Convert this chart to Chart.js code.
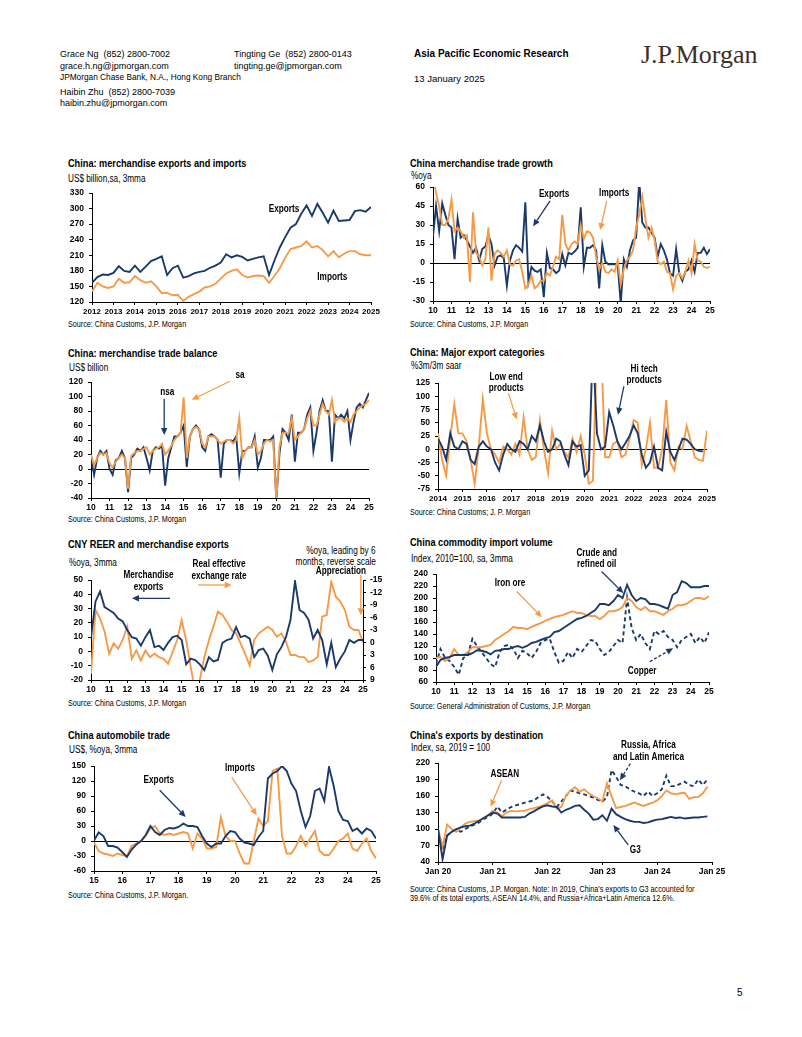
<!DOCTYPE html>
<html>
<head>
<meta charset="utf-8">
<title>China trade charts</title>
<script src="https://cdn.jsdelivr.net/npm/chart.js@4.4.1/dist/chart.umd.min.js"></script>
<style>
  body { margin: 0; background: #fff; }
  #page { position: relative; width: 802px; height: 1037px; overflow: hidden; background: #fff; }
  #page canvas { position: absolute; }
  .tx { position: absolute; white-space: pre; color: #000; line-height: 1; transform-origin: 0 50%; }
</style>
</head>
<body>
<div id="page"></div>
<script>
'use strict';

// ---- data (approx) ----

// exports and imports, US$bn, quarterly from 2012
const levelStart = 2012;
const exportsLevel = [
  157, 168, 173, 172, 176, 189, 180, 178, 190, 178, 188, 199,
  203, 208, 172, 185, 190, 167, 170, 175, 178, 180, 186, 190,
  196, 212, 206, 210, 207, 200, 203, 206, 208, 172, 200, 225,
  245, 263, 270, 290, 306, 286, 309, 292, 273, 296, 276, 277,
  278, 295, 297, 294, 303];
const importsLevel = [
  140, 157, 150, 147, 150, 165, 157, 158, 170, 162, 157, 160,
  150, 137, 138, 133, 134, 122, 130, 135, 140, 148, 150, 155,
  165, 175, 180, 183, 172, 167, 170, 171, 170, 157, 170, 185,
  205, 222, 225, 228, 237, 225, 228, 220, 208, 218, 206, 213,
  218, 218, 212, 210, 210];

// trade growth %oya, every 2 months from 2010
const growthStart = 2010;
const exportsGrowth = [
  21, 45, 25, 47, 38, 30, 28, 3, 35, 20, 22, 18,
  13, 8, 12, 2, 11, 13, 22, 15, -2, 5, 6, 4,
  -18, 2, 10, 14, 12, 9, 48, -15, -3, -6, -7, -5,
  -27, 8, -4, -5, -8, -6, 7, -2, 8, 7, 9, 12,
  44, -3, 12, 12, 14, 10, -20, 14, 1, -1, -1, -1,
  -1, -32, 3, -3, 10, 18, 20, 65, 32, 28, 28, 24,
  20, 5, 15, 10, 3, -8, -10, 11, -8, -14, -7, -5,
  2, -7, 8, 8, 12, 7, 11];
const importsGrowth = [
  70, 55, 45, 30, 30, 35, 50, 25, 28, 25, 20, 22,
  -15, 40, 8, 5, -2, 3, 28, -14, 7, 10, 8, 5,
  10, -1, -2, 2, 3, -7, -20, -17, -10, -20, -18, -14,
  -14, -8, -10, -3, 5, 3, 38, 15, 10, 15, 17, 15,
  30, 19, 25, 24, 20, 5, -5, 0, -7, -8, -5, -7,
  2, -17, -5, 2, 5, 10, 28, 38, 52, 35, 20, 28,
  18, 1, -1, 1, -7, -8, -21, -10, -8, -12, -7, 2,
  -8, 15, 2, 1, -3, -4, -3];

// trade balance US$bn, every 2 months from 2010
const balanceStart = 2010;
const balanceNsa = [
  15, -8, 15, 25, 20, 25, 0, -8, 12, 15, 25, 15,
  -32, 15, 20, 28, 25, 30, 15, -2, 25, 30, 28, 32,
  -23, 15, 30, 45, 45, 50, 60, 3, 45, 55, 60, 55,
  30, 25, 45, 48, 45, 40, -12, 35, 40, 40, 38, 45,
  -6, 25, 25, 30, 30, 45, 2, 15, 40, 40, 40, 45,
  -42, 20, 55, 50, 40, 75, 10, 50, 50, 55, 75, 85,
  25, 50, 80, 95, 80, 80, 10, 75, 70, 75, 70, 80,
  40, 65, 85, 90, 85, 95, 105];
const balanceSa = [
  20, 5, 15, 22, 20, 22, 8, 2, 10, 15, 20, 15,
  -27, 18, 22, 25, 25, 28, 30, 20, 25, 28, 30, 35,
  20, 25, 32, 40, 45, 50, 99, 15, 45, 55, 58, 55,
  35, 30, 45, 45, 45, 40, 35, 38, 40, 40, 35, 40,
  70, 15, 25, 30, 30, 40, 20, 25, 35, 40, 38, 40,
  -45, 30, 50, 50, 50, 70, 40, 45, 50, 55, 70, 80,
  60, 60, 75, 90, 80, 75, 95, 65, 70, 70, 65, 70,
  65, 75, 80, 85, 88, 90, 95];

// export categories %3m/3m saar, every 2 months from 2014
const catStart = 2014;
const hiTech = [
  20, 5, -20, 30, 5, 0, 15, 10, -20, -28, 5, 15,
  5, 0, -25, -40, -10, 10, 0, -5, 15, 10, 0, 25,
  15, 45, 15, -5, 0, 20, 15, -10, -30, 15, 5, 8,
  -50, -40, 200, 30, 0, 5, 70, 45, 15, 0, 12, 25,
  45, 30, -10, -35, -25, 5, -35, -40, 33, -5, -20, 0,
  20, 18, 10, 0, -3, -4];
const lowEnd = [
  30, -20, -50, 20, 85, 30, 30, 15, -20, -65, 5, 95,
  30, 0, -10, -25, 5, 0, -10, 10, -10, 60, 0, -20,
  -15, 55, 0, -45, 35, 0, 10, -5, -15, 20, -5, 25,
  -10, -65, -60, 200, 200, -15, -15, 10, 15, -15, -10, 20,
  55, 50, -30, 0, 50, -35, -35, 0, 93, -25, -40, 5,
  0, 44, 15, -15, -20, -22, 35];

// CNY REER vs exports, quarterly from 2010
const reerStart = 2010;
const exports3mma = [
  10, 35, 42, 31, 29, 27, 23, 21, 15, 10, 9, 4,
  10, 15, 3, 4, 1, 6, 10, 11, 8, -9, -5, -6,
  -9, -13, -4, -7, -6, 6, 8, 9, 17, 10, 11, 9,
  -4, 1, 2, -3, -13, -2, 3, 10, 22, 49, 29, 27,
  22, 9, 15, 8, -9, 6, -11, -5, 0, 8, 6, 8, 8];
const reerLead = [
  7.5, -7.8, -5.8, -2.6, 2.7, 0.2, 1.5, -0.6, -3.8, 3.9, 1.9, 4.3,
  1.9, 3.5, 2.7, 3.5, 3.9, 5.1, 2.3, -0.6, -5.4, -0.5, 5.9, 12,
  9, 3.5, -0.5, -3.8, -7.4, -6.6, -5, -3, -2.2, 0.2, 2.7, 5.5,
  -0.6, -2.2, -3, -3.8, -3, -1.4, -2.2, -0.2, 3, 3, 3.5, 3.5,
  4.7, 4.3, 3.5, -6.2, -6.6, -14.6, -11, -9.8, -7.8, -3.8, -3, -3, 0];

// commodity import volume index, quarterly from 2010
const commodStart = 2010;
const crudeOil = [
  85, 97, 100, 102, 105, 105, 105, 105, 108, 113, 112, 110,
  106, 112, 113, 115, 115, 118, 120, 117, 120, 125, 127, 130,
  133, 135, 143, 145, 150, 155, 160, 165, 167, 170, 175, 180,
  190, 190, 188, 195, 205, 200, 222, 205, 195, 200, 198, 190,
  190, 188, 185, 182, 205, 210, 228, 225, 218, 218, 218, 220, 220];
const ironOre = [
  100, 102, 95, 100, 115, 105, 105, 110, 118, 118, 118, 120,
  122, 130, 135, 140, 145, 152, 150, 150, 148, 152, 155, 158,
  162, 165, 168, 170, 172, 175, 178, 175, 175, 172, 170, 170,
  165, 170, 178, 178, 180, 185, 200, 195, 185, 180, 185, 178,
  178, 175, 172, 178, 182, 188, 188, 190, 195, 200, 200, 198, 203];
const copper = [
  90, 115, 100, 95, 85, 72, 100, 105, 132, 120, 110, 100,
  90, 85, 110, 120, 122, 115, 100, 112, 108, 100, 110, 125,
  130, 132, 110, 92, 95, 110, 100, 115, 110, 120, 130, 128,
  115, 105, 110, 120, 130, 125, 200, 150, 130, 140, 125, 115,
  145, 140, 145, 135, 130, 118, 130, 135, 140, 125, 135, 125, 143];

// automobile trade %oya, every 2 months from 2015
const autoStart = 2015;
const autoExports = [
  1, 17, 10, -10, -10, -13, -22, -32, -17, -7, 0, 12,
  30, 18, 12, 22, 26, 25, 28, 35, 30, 30, 28, 10,
  -5, -12, -5, -5, 10, 20, 18, 5, -3, -5, -8, 8,
  20, 125, 135, 140, 150, 140, 115, 100, 60, 28, 50, 100,
  105, 80, 148, 110, 60, 42, 40, 20, 25, 15, 25, 20, 5];
const autoImports = [
  -3, -20, -25, -27, -30, -25, -28, -30, -10, -5, 0, 10,
  25, 30, 15, 12, 15, 12, 15, 18, 15, -15, 15, 5,
  -15, -15, -12, 47, 10, 0, 0, -25, -45, -45, 0, 45,
  30, 40, 140, 145, 10, -25, -25, -10, 10, -10, 5, 20,
  -20, -28, -28, -15, 0, 5, 15, -15, -20, -5, 5, -20, -35];

// exports by destination, index 2019=100, monthly from Jan 2020
const destStart = 2020;
const g3 = [
  101, 45, 88, 95, 100, 103, 105, 106, 110, 115, 120, 125,
  130, 128, 121, 121, 121, 121, 121, 122, 128, 132, 137, 141,
  143, 141, 140, 130, 135, 138, 142, 143, 135, 128, 117, 118,
  125, 115, 137, 127, 122, 118, 115, 113, 113, 111, 112, 115,
  117, 118, 120, 122, 120, 121, 119, 120, 121, 121, 122, 123];
const asean = [
  100, 68, 108, 100, 95, 103, 110, 113, 114, 115, 120, 125,
  133, 130, 123, 130, 133, 132, 133, 133, 136, 138, 140, 143,
  147, 152, 137, 140, 160, 170, 176, 168, 172, 165, 160, 156,
  150, 183, 160, 138, 140, 142, 145, 148, 145, 142, 145, 148,
  152, 160, 170, 165, 163, 165, 166, 155, 158, 158, 165, 177];
const russiaAfLatam = [
  98, 62, 88, 95, 98, 95, 100, 105, 108, 112, 118, 122,
  128, 141, 130, 135, 140, 143, 145, 148, 150, 152, 158, 163,
  158, 150, 140, 150, 160, 170, 168, 165, 163, 160, 157, 153,
  150, 158, 207, 195, 180, 178, 172, 168, 165, 160, 168, 160,
  165, 172, 197, 178, 178, 182, 186, 180, 178, 190, 180, 190];

// ---- fonts ----
function fontOk(name) {
  let c = document.createElement('canvas').getContext('2d');
  c.font = '20px monospace';
  let a = c.measureText('Merchandise exports 2012').width;
  c.font = '20px "' + name + '", monospace';
  return c.measureText('Merchandise exports 2012').width !== a;
}
const NARROW = fontOk('Liberation Sans Narrow');
const FAM = NARROW ? '"Liberation Sans Narrow", "Liberation Sans", sans-serif' : '"Liberation Sans", Arial, sans-serif';
const SQ = NARROW ? 1 : 0.82;   // horizontal squeeze when no narrow face
const WIDE = '"Liberation Sans", Arial, sans-serif';

const BLUE = '#1b3a6b';
const ORANGE = '#f59b48';

const page = document.getElementById('page');

function put(x, y, str, size, opt) {
  opt = opt || {};
  let d = document.createElement('div');
  d.className = 'tx';
  d.textContent = str;
  d.style.fontSize = size + 'px';
  d.style.fontFamily = opt.family || FAM;
  if (opt.bold) d.style.fontWeight = 'bold';
  if (opt.color) d.style.color = opt.color;
  d.style.top = (y - size / 2) + 'px';
  if (opt.right) {
    d.style.right = (802 - x) + 'px';
    d.style.transformOrigin = '100% 50%';
  } else {
    d.style.left = x + 'px';
  }
  let sq = opt.family ? 1 : SQ;
  if (opt.scale) sq = opt.scale;
  if (sq !== 1) d.style.transform = 'scaleX(' + sq + ')';
  page.appendChild(d);
}

function pts(start, step, vals) {
  return vals.map((v, i) => ({ x: start + i * step, y: v }));
}

// ---- labels and arrows drawn through the chart scales ----
const notesPlugin = {
  id: 'notes',
  afterDatasetsDraw(chart, args, opts) {
    let ctx = chart.ctx;
    let xs = chart.scales.x, ys = chart.scales.y;
    ctx.save();
    (opts.arrows || []).forEach(a => {
      let x1 = xs.getPixelForValue(a.from[0]), y1 = ys.getPixelForValue(a.from[1]);
      let x2 = xs.getPixelForValue(a.to[0]), y2 = ys.getPixelForValue(a.to[1]);
      let ang = Math.atan2(y2 - y1, x2 - x1);
      let hx = x2 - 7 * Math.cos(ang), hy = y2 - 7 * Math.sin(ang);
      ctx.strokeStyle = a.color;
      ctx.fillStyle = a.color;
      ctx.lineWidth = 1.3;
      ctx.setLineDash(a.dash ? [3, 2] : []);
      ctx.beginPath();
      ctx.moveTo(x1, y1);
      ctx.lineTo(hx, hy);
      ctx.stroke();
      ctx.setLineDash([]);
      ctx.beginPath();
      ctx.moveTo(x2, y2);
      ctx.lineTo(hx + 3.2 * Math.sin(ang), hy - 3.2 * Math.cos(ang));
      ctx.lineTo(hx - 3.2 * Math.sin(ang), hy + 3.2 * Math.cos(ang));
      ctx.closePath();
      ctx.fill();
    });
    (opts.labels || []).forEach(l => {
      ctx.font = 'bold 10px ' + FAM;
      ctx.fillStyle = '#000';
      ctx.textAlign = 'center';
      ctx.textBaseline = 'middle';
      let px = xs.getPixelForValue(l.at[0]), py = ys.getPixelForValue(l.at[1]);
      ctx.save();
      ctx.translate(px, py);
      ctx.scale(SQ, 1);
      ctx.fillText(l.text, 0, 0);
      ctx.restore();
    });
    ctx.restore();
  }
};

const AXW = 40, AXH = 22, PADT = 34;
const TICKFONT = { family: FAM, size: NARROW ? 10 : 8.5, weight: 'bold' };
const YEARFONT = { family: FAM, size: NARROW ? 9.5 : 8, weight: 'bold' };

function yGrid(zero) {
  return {
    drawOnChartArea: !!zero,
    color: c => (c.tick && c.tick.value === 0) ? '#000' : 'rgba(0,0,0,0)',
    tickColor: '#000',
    tickLength: 3,
    lineWidth: 1
  };
}

function panel(box, xr, yr, datasets, extra) {
  extra = extra || {};
  let rightW = extra.y2 ? 34 : 16;
  let w = box.r - box.l + AXW + rightW;
  let h = box.b - box.t + PADT + AXH;
  let cv = document.createElement('canvas');
  cv.width = w;
  cv.height = h;
  cv.style.left = (box.l - AXW) + 'px';
  cv.style.top = (box.t - PADT) + 'px';
  page.appendChild(cv);

  let scales = {
    x: {
      type: 'linear', min: xr[0], max: xr[1],
      afterFit: s => { s.height = AXH; },
      border: { color: '#000', width: 1 },
      grid: { drawOnChartArea: false, color: '#000', tickLength: 3 },
      ticks: { stepSize: 1, autoSkip: false, maxRotation: 0, padding: 2, color: '#000',
        font: xr[3] ? YEARFONT : TICKFONT, callback: xr[2] }
    },
    y: {
      min: yr[0], max: yr[1],
      afterFit: s => { s.width = AXW; },
      border: { color: '#000', width: 1 },
      grid: yGrid(extra.zero),
      ticks: { stepSize: yr[2], autoSkip: false, padding: 5, color: '#000', font: TICKFONT }
    }
  };
  if (extra.y2) {
    scales.y2 = {
      position: 'right', reverse: true, min: extra.y2[0], max: extra.y2[1],
      afterFit: s => { s.width = 34; },
      border: { color: '#000', width: 1 },
      grid: { drawOnChartArea: false, color: '#000', tickLength: 3 },
      ticks: { stepSize: extra.y2[2], autoSkip: false, padding: 4, color: '#000', font: TICKFONT }
    };
  }

  return new Chart(cv, {
    type: 'line',
    data: { datasets: datasets },
    options: {
      responsive: false,
      animation: false,
      devicePixelRatio: 1,
      events: [],
      layout: { padding: { top: PADT, right: extra.y2 ? 0 : rightW, left: 0, bottom: 0 } },
      elements: { point: { radius: 0 }, line: { borderWidth: 1.9, tension: 0 } },
      plugins: { legend: { display: false }, tooltip: { enabled: false }, notes: extra.notes || {} },
      scales: scales
    },
    plugins: [notesPlugin]
  });
}

function line(data, color, dash) {
  return { data: data, borderColor: color, borderDash: dash || [], fill: false };
}

const yy = v => String(v).slice(2);
const full = v => String(v);

// ---- header ----
put(60, 54, 'Grace Ng  (852) 2800-7002', 9, { family: WIDE });
put(60, 66, 'grace.h.ng@jpmorgan.com', 9, { family: WIDE });
put(60, 77.5, 'JPMorgan Chase Bank, N.A., Hong Kong Branch', 8.3, { family: WIDE });
put(60, 92, 'Haibin Zhu  (852) 2800-7039', 9, { family: WIDE });
put(60, 103, 'haibin.zhu@jpmorgan.com', 9, { family: WIDE });
put(234, 54, 'Tingting Ge  (852) 2800-0143', 9, { family: WIDE });
put(234, 66, 'tingting.ge@jpmorgan.com', 9, { family: WIDE });
put(414, 54, 'Asia Pacific Economic Research', 10, { family: WIDE, bold: true });
put(414, 79, '13 January 2025', 9.5, { family: WIDE });
put(641, 55, 'J.P.Morgan', 26, { family: '"Liberation Serif", "DejaVu Serif", serif', color: '#3f3128' });
put(737, 993, '5', 10, { family: WIDE });

// ---- chart titles, units, sources ----
const SRC = 8.8;
put(68, 164, 'China: merchandise exports and imports', 11.2, { bold: true });
put(68, 179, 'US$ billion,sa, 3mma', 10);
put(68, 324, 'Source: China Customs, J.P. Morgan', SRC);

put(410, 164, 'China merchandise trade growth', 11.2, { bold: true });
put(411, 176, '%oya', 10);
put(410, 324, 'Source: China Customs, J.P. Morgan', SRC);

put(68, 354, 'China: merchandise trade balance', 11.2, { bold: true });
put(69, 368, 'US$ billion', 10);
put(68, 519, 'Source: China Customs, J.P. Morgan', SRC);

put(410, 353, 'China: Major export categories', 11.2, { bold: true });
put(411, 366, '%3m/3m saar', 10);
put(410, 512, 'Source: China Customs; J. P. Morgan', SRC);

put(68, 545, 'CNY REER and merchandise exports', 11.2, { bold: true });
put(69, 563, '%oya, 3mma', 10);
put(376, 551, '%oya, leading by 6', 10, { right: true });
put(376, 562, 'months, reverse scale', 10, { right: true });
put(68, 703, 'Source: China Customs, J.P. Morgan', SRC);

put(410, 543, 'China commodity import volume', 11.2, { bold: true });
put(411, 559, 'Index, 2010=100, sa, 3mma', 10);
put(410, 706, 'Source: General Administration of Customs, J.P. Morgan', SRC);

put(68, 736, 'China automobile trade', 11.2, { bold: true });
put(69, 750, 'US$, %oya, 3mma', 10);
put(68, 895, 'Source: China Customs, J.P. Morgan.', SRC);

put(410, 736, "China's exports by destination", 11.2, { bold: true });
put(411, 748, 'Index, sa, 2019 = 100', 10);
put(410, 889, "Source: China Customs, J.P. Morgan. Note: In 2019, China's exports to G3 accounted for", SRC);
put(410, 898.5, '39.6% of its total exports, ASEAN 14.4%, and Russia+Africa+Latin America 12.6%.', SRC);

// ---- charts ----
panel({ l: 92, t: 193, r: 371, b: 302 }, [2012, 2025, full, true], [120, 330, 30], [
  line(pts(levelStart, 0.25, exportsLevel), BLUE),
  line(pts(levelStart, 0.25, importsLevel), ORANGE)
], { notes: { labels: [
  { text: 'Exports', at: [2020.95, 299] },
  { text: 'Imports', at: [2023.2, 168] }
] } });

panel({ l: 433, t: 187, r: 710, b: 301 }, [2010, 2025, yy], [-30, 60, 15], [
  line(pts(growthStart, 1 / 6, importsGrowth), ORANGE),
  line(pts(growthStart, 1 / 6, exportsGrowth), BLUE)
], { zero: true, notes: {
  labels: [{ text: 'Exports', at: [2016.56, 54] }, { text: 'Imports', at: [2019.81, 55] }],
  arrows: [
    { from: [2016.34, 49], to: [2015.42, 29], color: BLUE },
    { from: [2019.41, 49], to: [2019.05, 26], color: ORANGE }
  ] } });

panel({ l: 91, t: 382, r: 369, b: 498 }, [2010, 2025, yy], [-40, 120, 20], [
  line(pts(balanceStart, 1 / 6, balanceSa), ORANGE),
  line(pts(balanceStart, 1 / 6, balanceNsa), BLUE)
], { zero: true, notes: {
  labels: [{ text: 'nsa', at: [2014.12, 105.6] }, { text: 'sa', at: [2018.04, 130] }],
  arrows: [
    { from: [2013.95, 97], to: [2013.95, 47], color: BLUE },
    { from: [2017.5, 121], to: [2015.44, 95.5], color: ORANGE }
  ] } });

panel({ l: 438, t: 383, r: 707, b: 489 }, [2014, 2025, full, true], [-75, 125, 25], [
  line(pts(catStart, 1 / 6, hiTech), BLUE),
  line(pts(catStart, 1 / 6, lowEnd), ORANGE)
], { zero: true, notes: {
  labels: [
    { text: 'Low end', at: [2016.79, 136] }, { text: 'products', at: [2016.79, 115.6] },
    { text: 'Hi tech', at: [2022.43, 151] }, { text: 'products', at: [2022.43, 130] }
  ],
  arrows: [
    { from: [2016.88, 106], to: [2017.22, 56], color: ORANGE },
    { from: [2021.6, 118.6], to: [2021.36, 65], color: BLUE }
  ] } });

let reerSets = [
  line(pts(reerStart, 0.25, exports3mma), BLUE),
  line(pts(reerStart, 0.25, reerLead), ORANGE)
];
reerSets[1].yAxisID = 'y2';
panel({ l: 91, t: 580, r: 363, b: 680 }, [2010, 2025, yy], [-20, 50, 10], reerSets, {
  y2: [-15, 9, 3],
  notes: {
    labels: [
      { text: 'Merchandise', at: [2013.17, 53] }, { text: 'exports', at: [2013.17, 45] },
      { text: 'Real effective', at: [2017.06, 61] }, { text: 'exchange rate', at: [2017.06, 52.8] },
      { text: 'Appreciation', at: [2023.78, 55.8] }
    ],
    arrows: [
      { from: [2014.36, 37.2], to: [2012.26, 37.2], color: BLUE },
      { from: [2015.92, 46.5], to: [2017.76, 46.5], color: ORANGE },
      { from: [2024.88, 53.5], to: [2024.88, 25.4], color: ORANGE }
    ] } });

panel({ l: 436, t: 574, r: 709, b: 682 }, [2010, 2025, yy], [60, 240, 20], [
  line(pts(commodStart, 0.25, crudeOil), BLUE),
  line(pts(commodStart, 0.25, ironOre), ORANGE),
  line(pts(commodStart, 0.25, copper), BLUE, [4, 3])
], { notes: {
  labels: [
    { text: 'Crude and', at: [2018.83, 275] }, { text: 'refined oil', at: [2018.83, 256.7] },
    { text: 'Iron ore', at: [2014.07, 223.8] }, { text: 'Copper', at: [2021.33, 77.2] }
  ],
  arrows: [
    { from: [2019.1, 244.3], to: [2020.29, 208.2], color: BLUE },
    { from: [2014.44, 210.9], to: [2015.81, 168.1], color: ORANGE },
    { from: [2021.75, 93.9], to: [2023.03, 116.3], color: BLUE, dash: true }
  ] } });

panel({ l: 94, t: 766, r: 376, b: 871 }, [2015, 2025, yy], [-60, 150, 30], [
  line(pts(autoStart, 1 / 6, autoExports), BLUE),
  line(pts(autoStart, 1 / 6, autoImports), ORANGE)
], { zero: true, notes: {
  labels: [{ text: 'Exports', at: [2017.3, 120.8] }, { text: 'Imports', at: [2020.18, 146] }],
  arrows: [
    { from: [2017.33, 101.4], to: [2018.25, 48], color: BLUE },
    { from: [2019.88, 128], to: [2020.77, 51.4], color: ORANGE }
  ] } });

panel({ l: 438, t: 763, r: 712, b: 862 }, [2020, 2025, v => 'Jan ' + String(v).slice(2)], [40, 220, 30], [
  line(pts(destStart, 1 / 12, g3), BLUE),
  line(pts(destStart, 1 / 12, asean), ORANGE),
  line(pts(destStart, 1 / 12, russiaAfLatam), BLUE, [4, 3])
], { notes: {
  labels: [
    { text: 'Russia, Africa', at: [2023.84, 252] }, { text: 'and Latin America', at: [2023.84, 229.8] },
    { text: 'ASEAN', at: [2021.22, 199] }, { text: 'G3', at: [2023.6, 61] }
  ],
  arrows: [
    { from: [2023.51, 218.9], to: [2023.32, 188.7], color: BLUE, dash: true },
    { from: [2021.16, 188.7], to: [2020.96, 140.5], color: ORANGE },
    { from: [2023.47, 71.3], to: [2023.2, 107.4], color: BLUE }
  ] } });
</script>
</body>
</html>
